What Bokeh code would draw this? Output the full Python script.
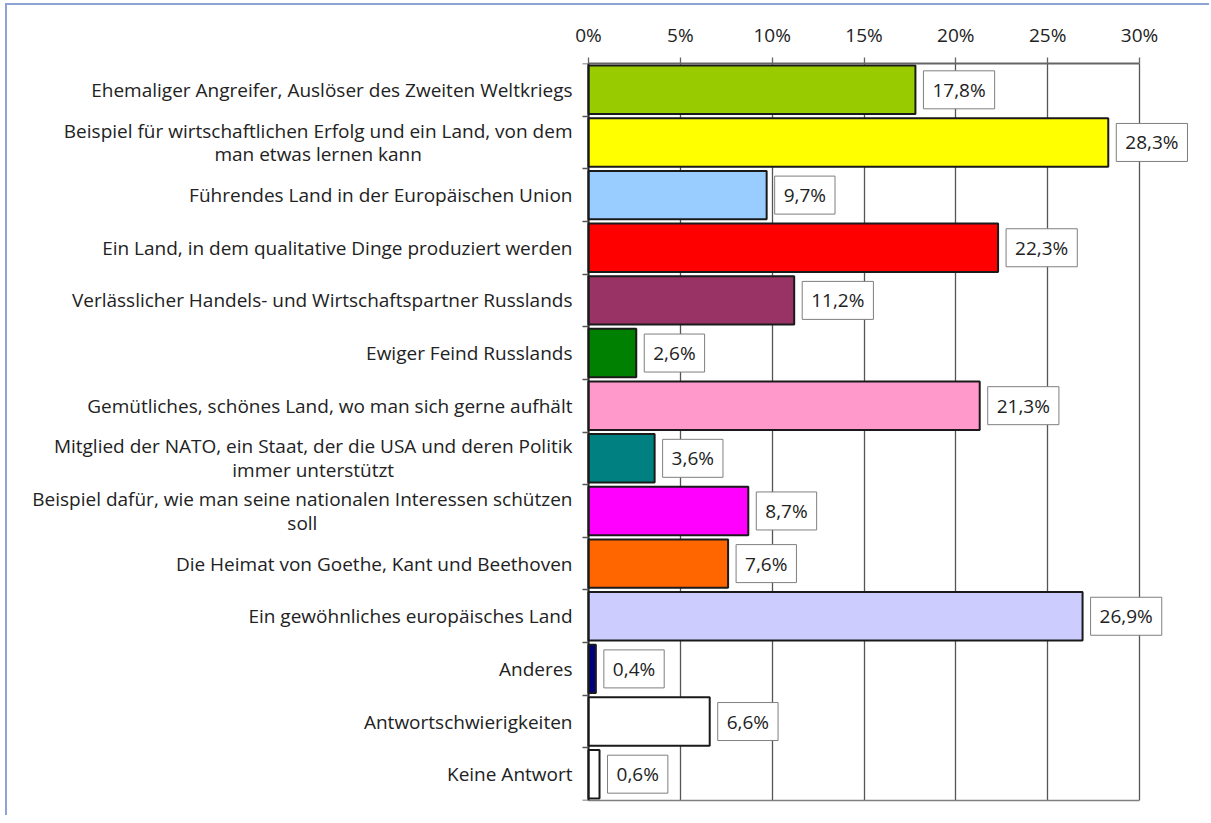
from bokeh.plotting import figure
from bokeh.models import Range1d, FixedTicker, Label, LinearAxis
from bokeh.embed import file_html
from bokeh.resources import INLINE

categories = [
    "Ehemaliger Angreifer, Auslöser des Zweiten Weltkriegs",
    "Beispiel für wirtschaftlichen Erfolg und ein Land, von dem\nman etwas lernen kann",
    "Führendes Land in der Europäischen Union",
    "Ein Land, in dem qualitative Dinge produziert werden",
    "Verlässlicher Handels- und Wirtschaftspartner Russlands",
    "Ewiger Feind Russlands",
    "Gemütliches, schönes Land, wo man sich gerne aufhält",
    "Mitglied der NATO, ein Staat, der die USA und deren Politik\nimmer unterstützt",
    "Beispiel dafür, wie man seine nationalen Interessen schützen\nsoll",
    "Die Heimat von Goethe, Kant und Beethoven",
    "Ein gewöhnliches europäisches Land",
    "Anderes",
    "Antwortschwierigkeiten",
    "Keine Antwort",
]
values = [17.8, 28.3, 9.7, 22.3, 11.2, 2.6, 21.3, 3.6, 8.7, 7.6, 26.9, 0.4, 6.6, 0.6]
colors = ["#99cc00", "#ffff00", "#99ccff", "#ff0000", "#993366", "#008000", "#ff99cc",
          "#008080", "#ff00ff", "#ff6600", "#ccccff", "#000080", "#ffffff", "#ffffff"]
tick_values = [0, 5, 10, 15, 20, 25, 30]
tick_labels = ["0%", "5%", "10%", "15%", "20%", "25%", "30%"]

FONT = "Open Sans"
n = len(categories)
x_max = 30

# page geometry (the Bokeh page has no body margin)
BW = 2                              # outer chart border width
CX, CY = 7, 5                       # canvas origin on the page
W, H = 1211 - CX, 823 - CY - 6      # stay inside the window
ZERO_X, FULL_X = 588, 1139          # page x of 0% and 30%
TOP_Y, BOT_Y = 63, 800              # page y of plot area
LEFT = 8
px_per_unit = (FULL_X - ZERO_X) / x_max
x_start = -(ZERO_X - (CX + LEFT)) / px_per_unit
x_end = (CX + W - ZERO_X) / px_per_unit

p = figure(width=W, height=H, x_range=Range1d(x_start, x_end), y_range=Range1d(n, 0),
           x_axis_location="above", output_backend="svg", toolbar_location=None,
           min_border_left=LEFT, min_border_right=0, min_border_top=TOP_Y - CY,
           min_border_bottom=(CY + H) - BOT_Y)
p.background_fill_color = "white"
p.border_fill_color = "white"
p.outline_line_color = None
p.styles = {"margin-left": f"{CX}px", "margin-top": f"{CY}px",
            "box-shadow": f"-{BW}px -{BW}px 0 0 #8fa2d4"}

ys = [i + 0.5 for i in range(n)]
p.hbar(y=ys, right=values, left=0, height=0.92, fill_color=colors,
       line_color="#1a1a1a", line_width=2)

# top axis
xa = p.xaxis[0]
xa.ticker = FixedTicker(ticks=tick_values)
xa.bounds = (0, x_max)
xa.major_label_overrides = {v: l for v, l in zip(tick_values, tick_labels)}
xa.major_label_text_font = FONT
xa.major_label_text_font_size = "19px"
xa.major_label_text_color = "#222222"
xa.major_label_standoff = 10
xa.axis_line_color = "#666666"
xa.axis_line_width = 2
xa.major_tick_line_color = "#666666"
xa.major_tick_line_width = 1.3
xa.major_tick_out = 6
xa.major_tick_in = 0
xa.minor_tick_line_color = None

# bottom frame line
xb = LinearAxis(ticker=FixedTicker(ticks=[]), bounds=(0, x_max))
xb.axis_line_color = "#7f7f7f"
xb.axis_line_width = 1.5
xb.major_tick_line_color = None
xb.minor_tick_line_color = None
p.add_layout(xb, "below")

p.xgrid.ticker = FixedTicker(ticks=tick_values)
p.xgrid.grid_line_color = "#555555"
p.xgrid.grid_line_width = 1.3
p.ygrid.grid_line_color = None

# left axis at 0%: ticks at category boundaries
ya = p.yaxis[0]
ya.fixed_location = 0
ya.ticker = FixedTicker(ticks=[], minor_ticks=list(range(n + 1)))
ya.major_label_standoff = 0
ya.bounds = (0, n)
ya.axis_line_color = "#1a1a1a"
ya.axis_line_width = 2
ya.major_tick_line_color = None
ya.minor_tick_line_color = "#555555"
ya.minor_tick_line_width = 1.3
ya.minor_tick_out = 6
ya.minor_tick_in = 0

for y, cat in zip(ys, categories):
    p.add_layout(Label(x=0, y=y, x_offset=-16, text=cat, anchor="center_right",
                       text_align="center", text_font=FONT, text_font_size="19px",
                       text_color="#222222", text_line_height=0.92))

for y, v in zip(ys, values):
    txt = f"{v:.1f}".replace(".", ",") + "%"
    p.add_layout(Label(x=v, y=y, x_offset=8, text=txt, anchor="center_left",
                       text_font=FONT, text_font_size="19px", text_color="#222222",
                       background_fill_color="white", border_line_color="#7f7f7f",
                       border_line_width=1, padding=(9, 6)))

open("out.html", "w").write(file_html(p, INLINE))
